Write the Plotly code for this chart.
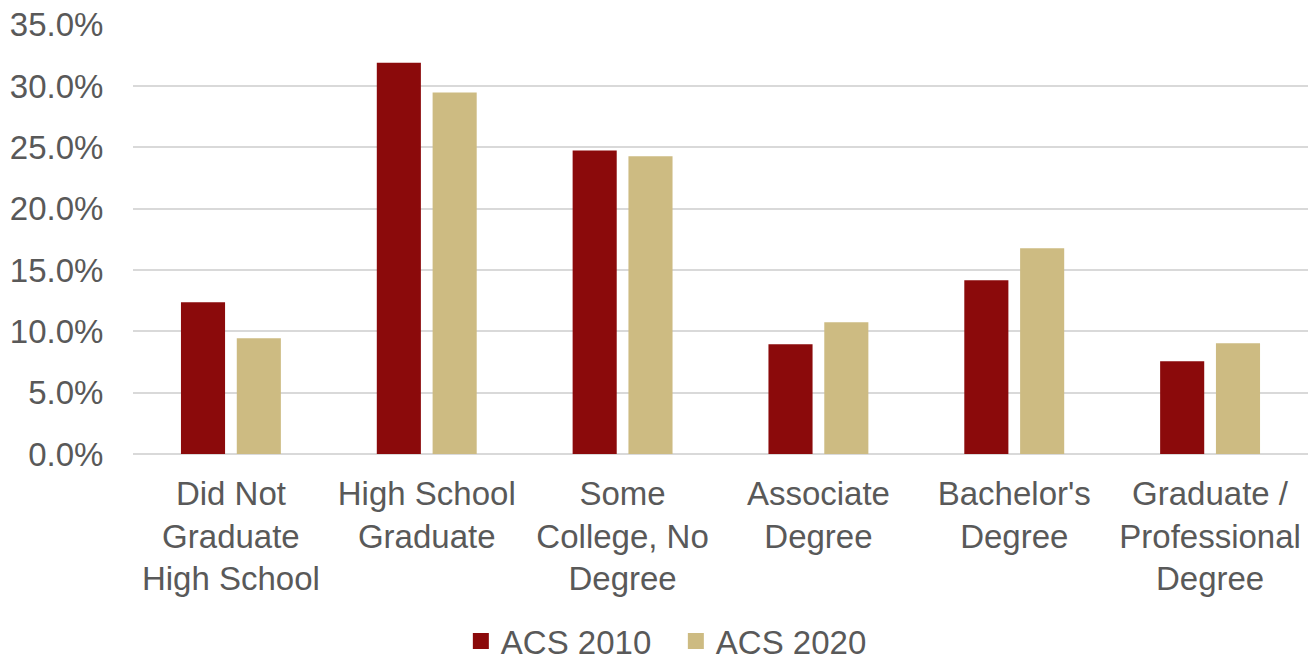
import plotly.graph_objects as go

categories = ["Did Not<br>Graduate<br>High School", "High School<br>Graduate",
              "Some<br>College, No<br>Degree", "Associate<br>Degree",
              "Bachelor's<br>Degree", "Graduate /<br>Professional<br>Degree"]
acs_2010 = [0.1237, 0.3190, 0.2474, 0.0895, 0.1416, 0.0757]
acs_2020 = [0.0944, 0.2946, 0.2426, 0.1074, 0.1677, 0.0903]
y_ticks = [0, 0.05, 0.10, 0.15, 0.20, 0.25, 0.30, 0.35]
series_names = ["ACS 2010", "ACS 2020"]
series_colors = ["#8B0A0B", "#CDBB82"]

FONT = "Liberation Sans, Arial, sans-serif"
GRAY = "#595959"

fig = go.Figure()
for name, vals, col in zip(series_names, [acs_2010, acs_2020], series_colors):
    fig.add_trace(go.Bar(x=categories, y=vals, name=name, showlegend=False,
                         marker=dict(color=col, line=dict(width=0))))
# legend proxies (square markers)
for name, col in zip(series_names, series_colors):
    fig.add_trace(go.Scatter(x=[None], y=[None], mode="markers", name=name,
                             marker=dict(symbol="square", size=18, color=col),
                             showlegend=True))

fig.update_layout(
    width=1310, height=660,
    margin=dict(l=133, r=2, t=24, b=206, autoexpand=False),
    paper_bgcolor="white", plot_bgcolor="white",
    barmode="group", bargap=0.43, bargroupgap=0.21,
    font=dict(family=FONT, size=33, color=GRAY),
    showlegend=True,
    legend=dict(orientation="h", x=0.462, xanchor="center", y=-0.435, yanchor="middle",
                font=dict(family=FONT, size=33, color=GRAY), itemwidth=30,
                entrywidth=170, entrywidthmode="pixels",
                traceorder="normal"),
    xaxis=dict(showgrid=False, showline=False, ticks="outside", ticklen=10,
               tickcolor="rgba(0,0,0,0)", tickfont=dict(size=33, color=GRAY),
               automargin=False),
    yaxis=dict(range=[0, 0.3505], tickvals=y_ticks, tickformat=".1%",
               showgrid=True, gridcolor="#D9D9D9", gridwidth=2,
               zeroline=True, zerolinecolor="#D9D9D9", zerolinewidth=2,
               showline=False, ticks="outside", ticklen=22, tickcolor="rgba(0,0,0,0)",
               tickfont=dict(size=33, color=GRAY), automargin=False),
)

fig.write_html("out.html", config={"displayModeBar": False},
               post_script="document.body.style.margin='0px';document.body.style.overflow='hidden';")
